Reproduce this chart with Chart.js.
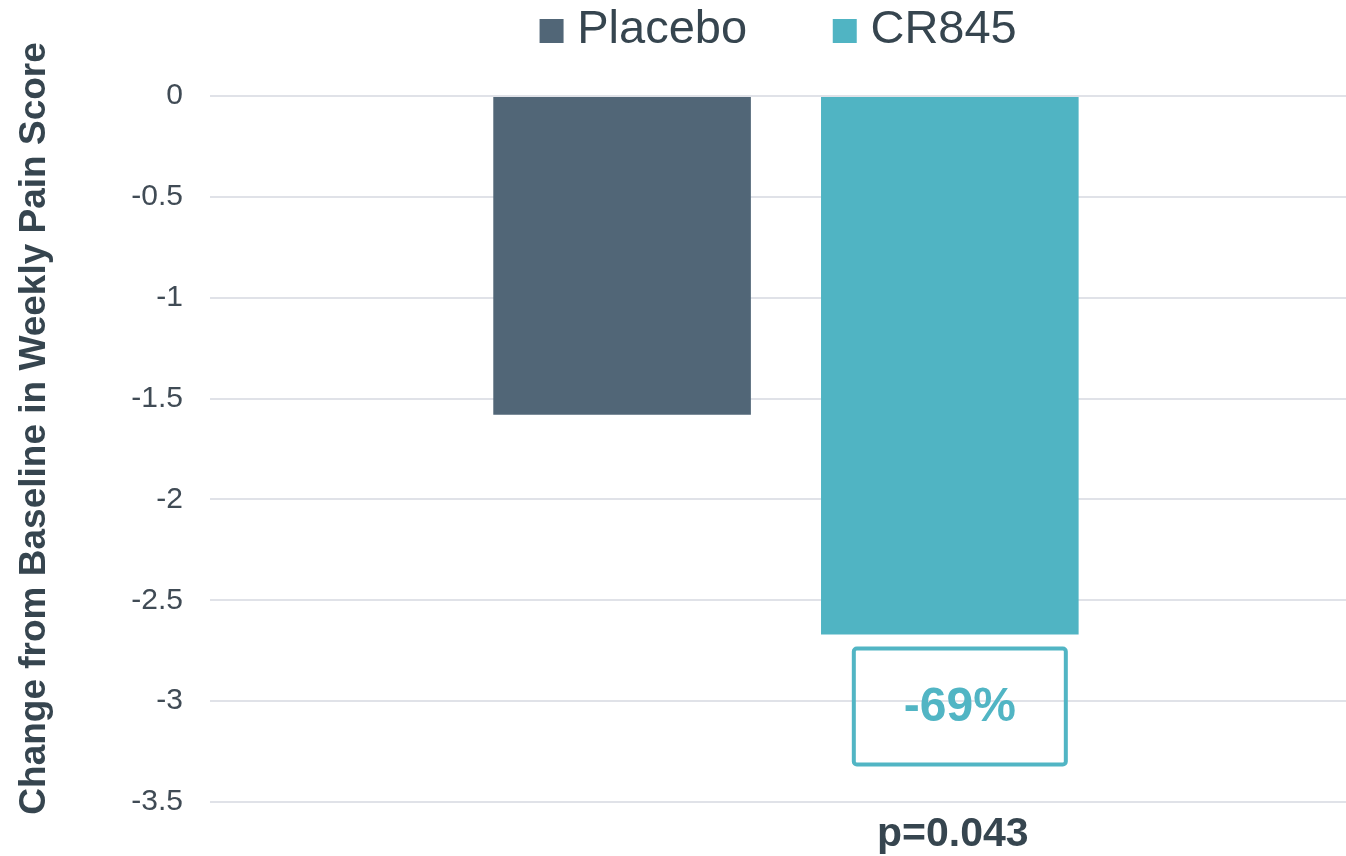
<!DOCTYPE html>
<html>
<head>
<meta charset="utf-8">
<script src="https://cdn.jsdelivr.net/npm/chart.js@4.4.1/dist/chart.umd.min.js"></script>
<style>
  html, body { margin: 0; padding: 0; background: #fff; }
</style>
</head>
<body>
<canvas id="chart" width="1346" height="856"></canvas>
<script>
const groups = [''];
const seriesNames = ['Placebo', 'CR845'];
const seriesColors = ['#516677', '#50b4c3'];
const placeboValues = [-1.58];
const cr845Values = [-2.67];
const yTicks = [0, -0.5, -1, -1.5, -2, -2.5, -3, -3.5];
const yTickLabels = ['0', '-0.5', '-1', '-1.5', '-2', '-2.5', '-3', '-3.5'];
const reductionLabel = '-69%';
const pValueLabel = 'p=0.043';

const FONT = '"Liberation Sans", Arial, sans-serif';
const DARK = '#36454f';
const TEAL = '#51b5c4';

// legend swatch: square sitting right of the canvas centre so the text hugs it
function swatch(color) {
  const c = document.createElement('canvas');
  c.width = 40;
  c.height = 24;
  const g = c.getContext('2d');
  g.fillStyle = color;
  g.fillRect(13, 0, 24, 24);
  return c;
}

// box with the reduction and the p value under the CR845 bar
const notesPlugin = {
  id: 'notes',
  afterDatasetsDraw(chart) {
    const bar = chart.getDatasetMeta(1).data[0];
    if (!bar) return;
    const ctx = chart.ctx;
    const cx = bar.x + 10;
    const top = bar.y + 14;
    const w = 212, h = 116;
    ctx.save();
    ctx.lineWidth = 4;
    ctx.strokeStyle = TEAL;
    ctx.beginPath();
    ctx.roundRect(cx - w / 2, top, w, h, 3);
    ctx.stroke();
    ctx.fillStyle = TEAL;
    ctx.font = 'bold 48px ' + FONT;
    ctx.textAlign = 'center';
    ctx.textBaseline = 'middle';
    ctx.fillText(reductionLabel, cx, top + h / 2 + 1);
    ctx.fillStyle = DARK;
    ctx.font = 'bold 41px ' + FONT;
    ctx.fillText(pValueLabel, bar.x + 3, chart.chartArea.bottom + 33);
    ctx.restore();
  }
};

new Chart(document.getElementById('chart'), {
  type: 'bar',
  data: {
    labels: groups,
    datasets: [
      {
        label: seriesNames[0],
        data: placeboValues,
        backgroundColor: seriesColors[0],
        categoryPercentage: 0.577,
        barPercentage: 0.786,
      },
      {
        label: seriesNames[1],
        data: cr845Values,
        backgroundColor: seriesColors[1],
        categoryPercentage: 0.577,
        barPercentage: 0.786,
      },
    ],
  },
  options: {
    responsive: false,
    animation: false,
    layout: { padding: { bottom: 54, right: 0 } },
    scales: {
      x: {
        display: false,
        // the bar group sits a little right of the plot centre
        afterDataLimits: (scale) => {
          scale.min = -0.007;
          scale.max = 0;
        },
      },
      y: {
        min: -3.5,
        max: 0,
        afterBuildTicks: (scale) => {
          scale.ticks = yTicks.map((v) => ({ value: v }));
        },
        afterFit: (scale) => {
          scale.width = 210;
        },
        ticks: {
          padding: 27,
          color: '#404b55',
          font: { family: FONT, size: 30 },
          callback: (value, index) => yTickLabels[index],
        },
        grid: {
          color: '#e0e2e8',
          lineWidth: 2,
          drawTicks: false,
        },
        border: { display: false },
        title: {
          display: true,
          text: '    Change from Baseline in Weekly Pain Score',
          color: DARK,
          font: { family: FONT, size: 37, weight: 'bold' },
          padding: { top: 13, bottom: 0 },
        },
      },
    },
    plugins: {
      legend: {
        position: 'top',
        fullSize: false,
        labels: {
          color: DARK,
          font: { family: FONT, size: 47 },
          usePointStyle: true,
          boxWidth: 14.5,
          boxHeight: 24,
          padding: 7,
          generateLabels: (chart) => {
            const items = Chart.defaults.plugins.legend.labels.generateLabels(chart);
            items.forEach((item, i) => {
              item.pointStyle = swatch(seriesColors[i]);
            });
            // extra room between the two legend entries
            items[0].text = items[0].text + '      ';
            return items;
          },
        },
      },
      title: {
        display: true,
        text: '',
        fullSize: false,
        weight: 500,
        font: { size: 10 },
        padding: { top: 0, bottom: 20 },
      },
      tooltip: { enabled: false },
    },
  },
  plugins: [notesPlugin],
});
</script>
</body>
</html>
